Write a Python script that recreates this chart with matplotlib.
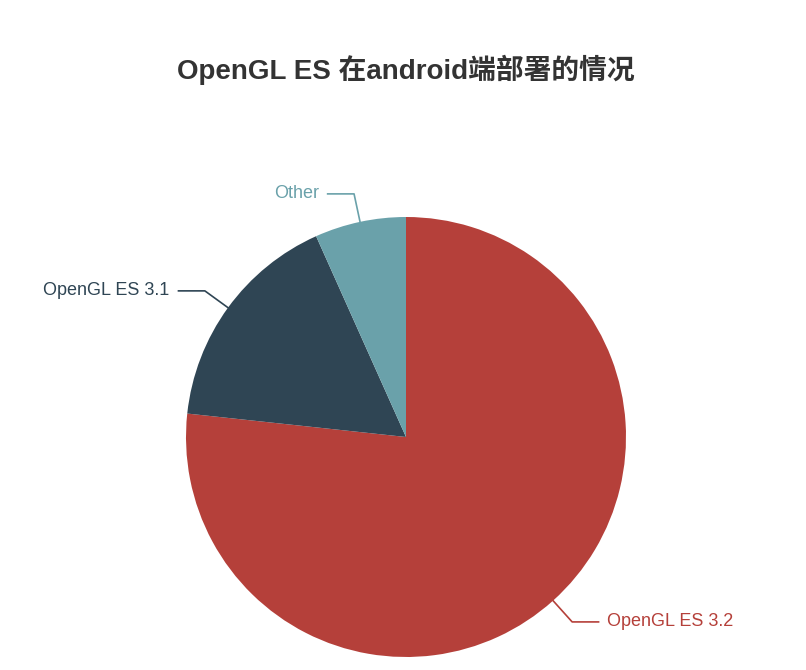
import numpy as np
import matplotlib
matplotlib.use('Agg')
import matplotlib.pyplot as plt

plt.rcParams['font.family'] = ['Liberation Sans', 'Noto Sans CJK SC', 'DejaVu Sans']

# 数据（从图上估读，百分比）
labels = ['OpenGL ES 3.2', 'OpenGL ES 3.1', 'Other']
values = [76.7, 16.6, 6.7]
colors = ['#b5403a', '#2f4554', '#6aa1aa']
title = 'OpenGL ES 在android端部署的情况'

fig = plt.figure(figsize=(8.06, 6.70), dpi=100)
fig.text(406 / 806, 1 - 70 / 670, title, ha='center', va='center',
         fontsize=20, fontweight='bold', color='#333333')

ax = fig.add_axes([186 / 806, 13 / 670, 440 / 806, 440 / 670])

# 从12点方向顺时针绘制
wedges, _ = ax.pie(values, colors=colors, startangle=90, counterclock=False,
                   radius=1, wedgeprops=dict(linewidth=0))
ax.set_xlim(-1, 1)
ax.set_ylim(-1, 1)
ax.set_aspect('equal')
ax.axis('off')

total = sum(values)
start = 0.0
for lab, val, col in zip(labels, values, colors):
    mid = np.radians((start + val / 2) / total * 360)
    start += val
    d = np.array([np.sin(mid), np.cos(mid)])
    p1 = d * 1.0
    p2 = d * 1.13
    side = 1 if d[0] >= 0 else -1
    p3 = p2 + np.array([side * 0.12, 0])
    ax.plot([p1[0], p2[0], p3[0]], [p1[1], p2[1], p3[1]], color=col,
            linewidth=1.2, clip_on=False)
    ax.text(p3[0] + side * 0.04, p3[1], lab, ha='left' if side > 0 else 'right',
            va='center', fontsize=13, color=col)

fig.savefig('out.png', dpi=100, facecolor='white')
